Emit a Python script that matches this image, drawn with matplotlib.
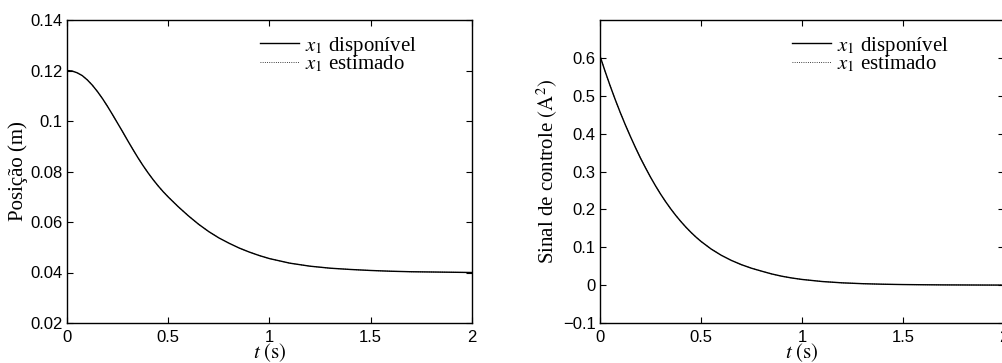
import matplotlib
matplotlib.use('Agg')
import matplotlib.pyplot as plt

# data
t_pos = [0, 0.025, 0.05, 0.075, 0.1, 0.125, 0.15, 0.175, 0.2, 0.225, 0.25,
         0.275, 0.3, 0.325, 0.35, 0.375, 0.4, 0.425, 0.45, 0.475, 0.5, 0.55,
         0.6, 0.65, 0.7, 0.75, 0.8, 0.85, 0.9, 0.95, 1.0, 1.1, 1.2, 1.3, 1.4,
         1.5, 1.6, 1.7, 1.8, 1.9, 2.0]
x1_pos = [0.1200, 0.1198, 0.1191, 0.1180, 0.1163, 0.1142, 0.1117, 0.1089,
          0.1058, 0.1025, 0.0991, 0.0957, 0.0922, 0.0888, 0.0855, 0.0824,
          0.0795, 0.0768, 0.0743, 0.0720, 0.0699, 0.0660, 0.0624, 0.0591,
          0.0562, 0.0537, 0.0516, 0.0497, 0.0481, 0.0467, 0.0455, 0.0437,
          0.0425, 0.0417, 0.0412, 0.0408, 0.0405, 0.0403, 0.0402, 0.0401,
          0.0400]

t_u = [0, 0.025, 0.05, 0.075, 0.1, 0.125, 0.15, 0.175, 0.2, 0.225, 0.25,
       0.275, 0.3, 0.325, 0.35, 0.375, 0.4, 0.425, 0.45, 0.475, 0.5, 0.55,
       0.6, 0.65, 0.7, 0.75, 0.8, 0.85, 0.9, 0.95, 1.0, 1.1, 1.2, 1.3, 1.4,
       1.5, 1.6, 1.7, 1.8, 1.9, 2.0]
u_sig = [0.605, 0.5648, 0.5266, 0.4904, 0.4561, 0.4237, 0.3931, 0.3638,
         0.3358, 0.310, 0.2852, 0.2620, 0.2403, 0.2202, 0.2015, 0.1841,
         0.1681, 0.1532, 0.1395, 0.1269, 0.1154, 0.0954, 0.0789, 0.0653,
         0.0540, 0.0446, 0.0369, 0.0295, 0.0235, 0.0188, 0.0150, 0.0095,
         0.0060, 0.0038, 0.0024, 0.0015, 0.0010, 0.0006, 0.0004, 0.0002,
         0.0001]

xticks = [0, 0.5, 1, 1.5, 2]
xtick_labels = ['0', '0.5', '1', '1.5', '2']
pos_ticks = [0.02, 0.04, 0.06, 0.08, 0.10, 0.12, 0.14]
pos_labels = ['0.02', '0.04', '0.06', '0.08', '0.1', '0.12', '0.14']
u_ticks = [-0.1, 0, 0.1, 0.2, 0.3, 0.4, 0.5, 0.6]
u_labels = ['\u22120.1', '0', '0.1', '0.2', '0.3', '0.4', '0.5', '0.6']

legend_labels = [r'$x_1$ disponível', r'$x_1$ estimado']

plt.rcParams['mathtext.fontset'] = 'stix'
plt.rcParams['font.family'] = ['Liberation Serif', 'DejaVu Serif']

fig = plt.figure(figsize=(10.03, 3.63), dpi=100)
ax1 = fig.add_axes([67 / 1003, 40 / 363, 405 / 1003, 303 / 363])
ax2 = fig.add_axes([600 / 1003, 40 / 363, 404 / 1003, 303 / 363])


def style(ax, yticks, ylabels, ylim, ylab):
    ax.set_xlim(0, 2)
    ax.set_ylim(*ylim)
    ax.set_xticks(xticks)
    ax.set_xticklabels(xtick_labels, family='Liberation Sans', fontsize=12)
    ax.set_yticks(yticks)
    ax.set_yticklabels(ylabels, family='Liberation Sans', fontsize=12)
    ax.tick_params(direction='in', top=True, right=True, length=4, width=0.8)
    ax.tick_params(axis='x', pad=5)
    ax.tick_params(axis='y', pad=3)
    for s in ax.spines.values():
        s.set_linewidth(1.0)
    ax.set_xlabel(r'$t\ \mathrm{(s)}$', fontsize=15, labelpad=-2.5)
    ax.set_ylabel(ylab, fontsize=15, labelpad=2)
    ax.legend(loc='upper right', bbox_to_anchor=(0.889, 0.986), frameon=False,
              fontsize=15, handlelength=1.85, handletextpad=0.3,
              labelspacing=-0.2, borderpad=0)


ax1.plot(t_pos, x1_pos, color='black', lw=1.0, label=legend_labels[0])
ax1.plot(t_pos, x1_pos, color='black', lw=0.6, ls=':', label=legend_labels[1])
style(ax1, pos_ticks, pos_labels, (0.02, 0.14), 'Posição (m)')

ax2.plot(t_u, u_sig, color='black', lw=1.0, label=legend_labels[0])
ax2.plot(t_u, u_sig, color='black', lw=0.6, ls=':', label=legend_labels[1])
style(ax2, u_ticks, u_labels, (-0.1, 0.7), r'Sinal de controle $(\mathrm{A}^2)$')

fig.savefig('out.png', dpi=100)
